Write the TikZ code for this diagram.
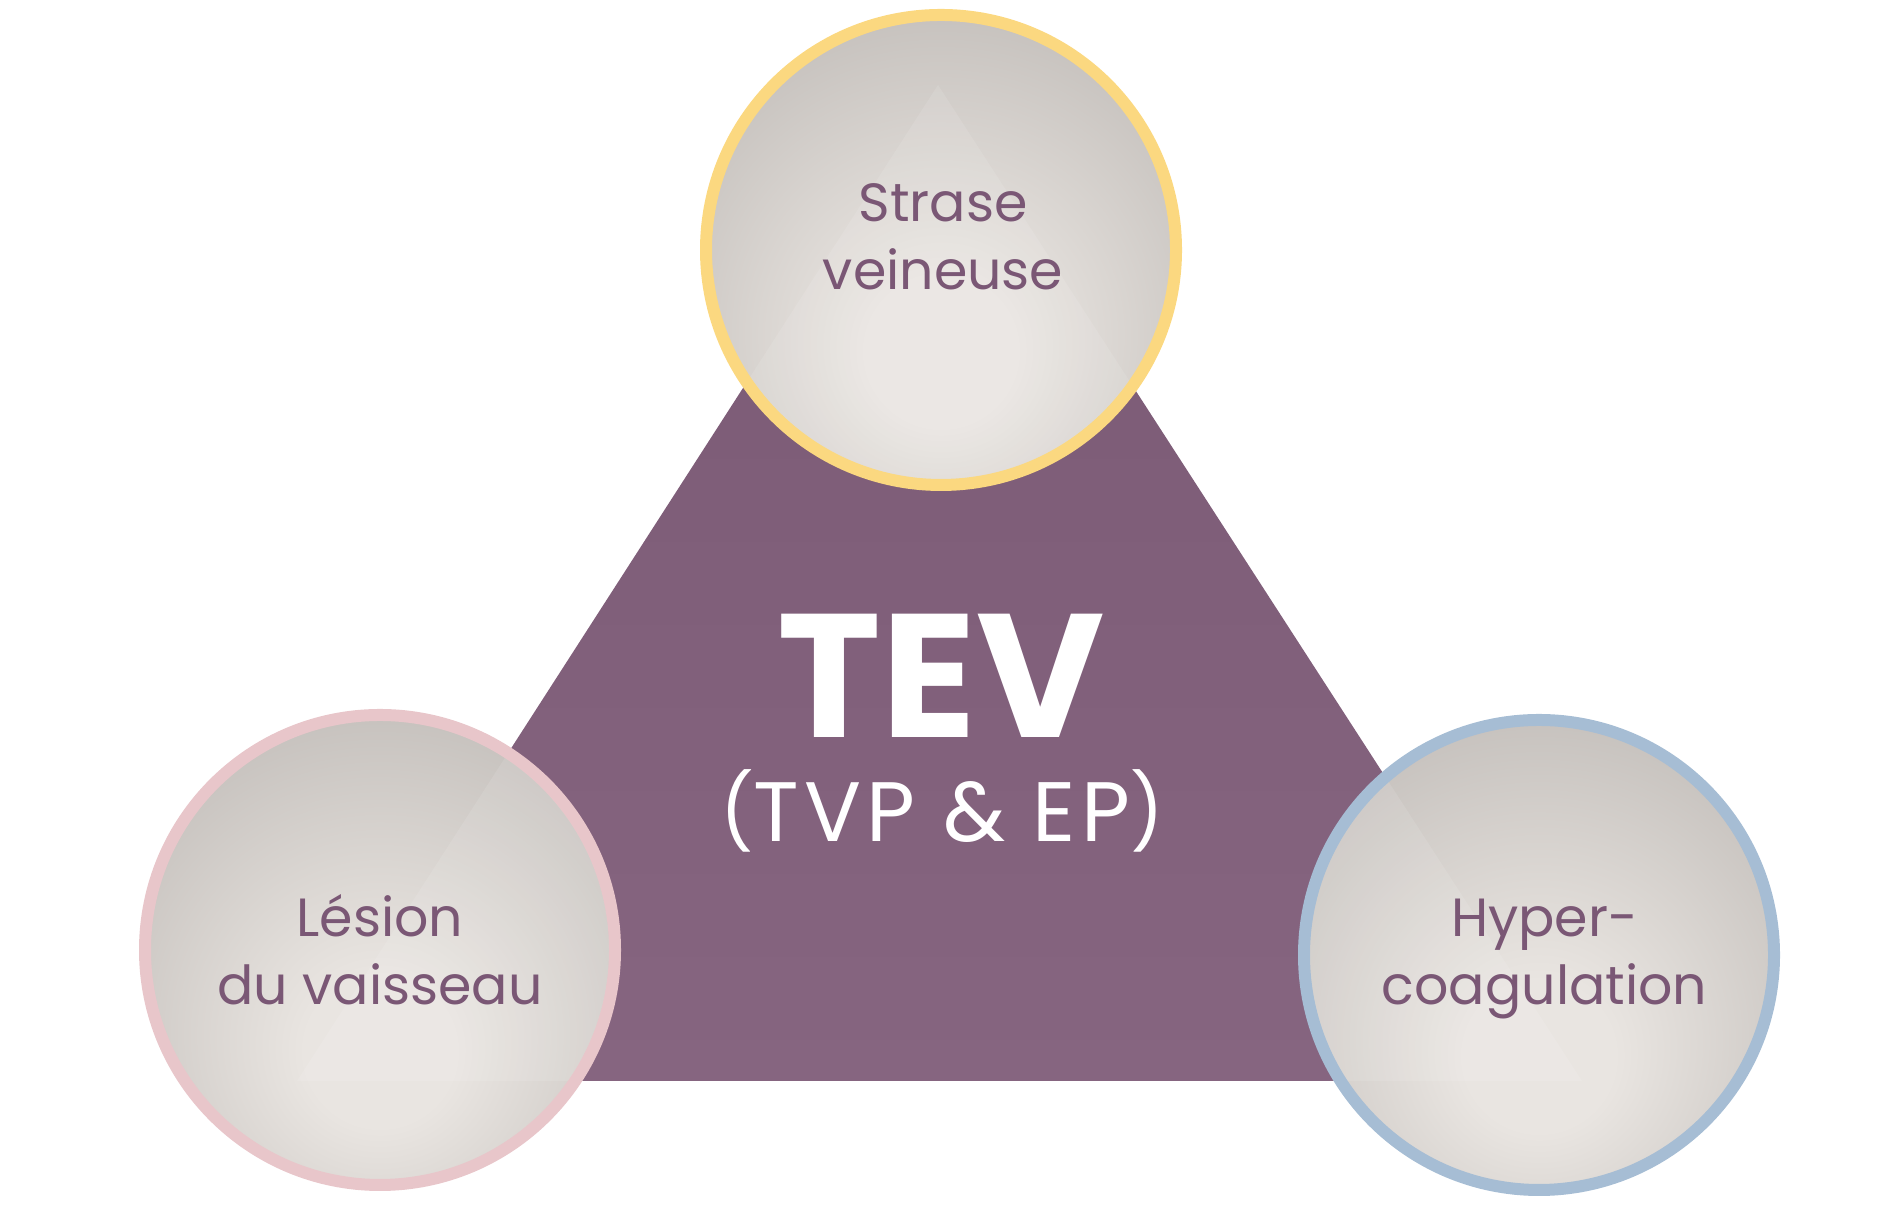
\documentclass[tikz,border=0pt]{standalone}
\usepackage{fontspec}
\setmainfont{Poppins}
\definecolor{ringyellow}{RGB}{251,216,128}
\definecolor{ringpink}{RGB}{232,198,202}
\definecolor{ringblue}{RGB}{166,189,212}
\definecolor{tritop}{RGB}{122,89,116}
\definecolor{tribot}{RGB}{134,101,128}
\definecolor{labelpurple}{RGB}{122,87,117}
\definecolor{ballhi}{RGB}{233,229,225}
\definecolor{balllo}{RGB}{178,173,169}
\pgfdeclareradialshading{circball}{\pgfpoint{0bp}{-12bp}}{color(0bp)=(ballhi); color(8bp)=(ballhi); color(47bp)=(balllo); color(80bp)=(balllo)}
\newcommand{\smallparen}[1]{\raisebox{1pt}{\fontsize{21}{24}\selectfont #1}}
\tikzset{
  factor/.style={circle, minimum size=4.70cm, inner sep=0pt, line width=0.12cm, shading=circball},
  factortext/.style={text=labelpurple, align=center, anchor=base, inner sep=0pt, font=\fontsize{15.3}{19.35}\selectfont},
  tevtext/.style={text=white, anchor=base, inner sep=0pt, font=\bfseries\fontsize{50}{56}\selectfont},
  subtext/.style={text=white, anchor=base, inner sep=0pt, font=\fontsize{24}{28}\selectfont\addfontfeatures{LetterSpace=6}}
}
\begin{document}
\begin{tikzpicture}
\useasboundingbox (0,0) rectangle (19,12.28);
\coordinate (apex) at (9.38,11.43);
\coordinate (bl) at (2.97,1.47);
\coordinate (br) at (15.82,1.47);
\shade[top color=tritop, bottom color=tribot] (apex) -- (bl) -- (br) -- cycle;
\node[factor, draw=ringyellow] (strase) at (9.41,9.78) {};
\node[factor, draw=ringpink] (lesion) at (3.80,2.78) {};
\node[factor, draw=ringblue] (hyper) at (15.39,2.73) {};
\begin{scope}
\clip (strase.center) circle (2.29) (lesion.center) circle (2.29) (hyper.center) circle (2.29);
\fill[white, opacity=0.10] (apex) -- (bl) -- (br) -- cycle;
\end{scope}
\node[factortext] (tstrase) at (9.43,9.38) {Strase\\veineuse};
\node[factortext] (tlesion) at (3.80,2.23) {Lésion\\du vaisseau};
\node[factortext] (thyper) at (15.445,2.23) {Hyper-\\coagulation};
\node[tevtext] (tev) at (9.415,4.90) {TEV};
\node[subtext] (tvp) at (9.42,3.86) {\smallparen{(}TVP \& EP\smallparen{)}};
\end{tikzpicture}
\end{document}
